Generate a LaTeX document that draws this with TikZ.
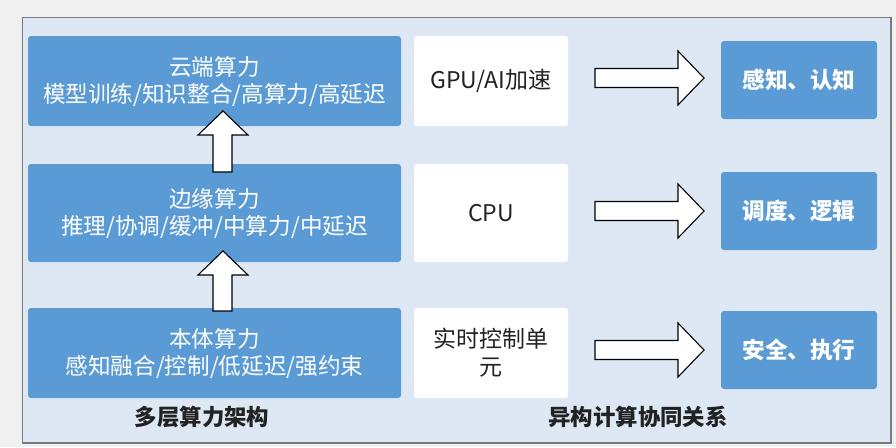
\documentclass[tikz,border=0pt]{standalone}
\usepackage{fontspec}
\setmainfont{Noto Sans CJK SC}
\usetikzlibrary{positioning}
\definecolor{bgout}{HTML}{F0F0F0}
\definecolor{framefill}{HTML}{DDE8F4}
\definecolor{framedraw}{HTML}{7A7A7A}
\definecolor{boxblue}{HTML}{5B9BD5}
\definecolor{txtdark}{HTML}{222222}
\tikzset{
  x=1pt,y=-1pt,
  bluebox/.style={fill=boxblue,draw=none,rounded corners=3pt,text=white,align=center,inner sep=0pt,font=\fontsize{22.6}{27}\selectfont},
  whitebox/.style={fill=white,draw=none,rounded corners=3pt,text=txtdark,align=center,inner sep=0pt,font=\fontsize{23}{28}\selectfont},
  resbox/.style={fill=boxblue,draw=none,rounded corners=3pt,text=white,align=center,inner sep=0pt,font=\fontsize{22.6}{26}\selectfont\bfseries},
  blockarrow/.style={fill=white,draw=black,line width=1.1pt,line join=miter},
  titletext/.style={text=txtdark,font=\fontsize{22.4}{26}\selectfont\bfseries,inner sep=0pt}
}
\begin{document}
\begin{tikzpicture}
\useasboundingbox (0,0) rectangle (896,447);
\fill[bgout] (0,0) rectangle (896,447);
\draw[fill=framefill,draw=framedraw,line width=1.4pt] (22.5,17.5) rectangle (891,443);
% left column
\node[bluebox,minimum width=373pt,minimum height=90pt] (cloud) at (214.5,81) {云端算力\\模型训练/知识整合/高算力/高延迟};
\node[bluebox,minimum width=373pt,minimum height=98pt] (edge) at (214.5,213) {边缘算力\\推理/协调/缓冲/中算力/中延迟};
\node[bluebox,minimum width=373pt,minimum height=90pt] (body) at (214.5,353) {本体算力\\感知融合/控制/低延迟/强约束};
% middle column
\node[whitebox,minimum width=154pt,minimum height=90pt] (gpu) at (491,81) {GPU/AI加速};
\node[whitebox,minimum width=154pt,minimum height=98pt] (cpu) at (491,213) {CPU};
\node[whitebox,minimum width=154pt,minimum height=90pt] (rt) at (491,353) {实时控制单\\元};
% right column
\node[resbox,minimum width=156pt,minimum height=78pt] (r1) at (799,80) {感知、认知};
\node[resbox,minimum width=156pt,minimum height=78pt] (r2) at (799,211) {调度、逻辑};
\node[resbox,minimum width=156pt,minimum height=78pt] (r3) at (799,350) {安全、执行};
% titles
\node[titletext] (t1) at (202,417) {多层算力架构};
\node[titletext] (t2) at (638,417) {异构计算协同关系};
% up arrows
\draw[blockarrow] (213,172) -- (213,135) -- (198,135) -- (223,111) -- (248,135) -- (232,135) -- (232,172) -- cycle;
\draw[blockarrow] (213,311) -- (213,275) -- (198,275) -- (223,251) -- (248,275) -- (232,275) -- (232,311) -- cycle;
% right arrows
\foreach \cy in {78,211,350}{
  \draw[blockarrow] (595,\cy-9.5) -- (678,\cy-9.5) -- (678,\cy-27) -- (704,\cy) -- (678,\cy+27) -- (678,\cy+9.5) -- (595,\cy+9.5) -- cycle;
}
\end{tikzpicture}
\end{document}
